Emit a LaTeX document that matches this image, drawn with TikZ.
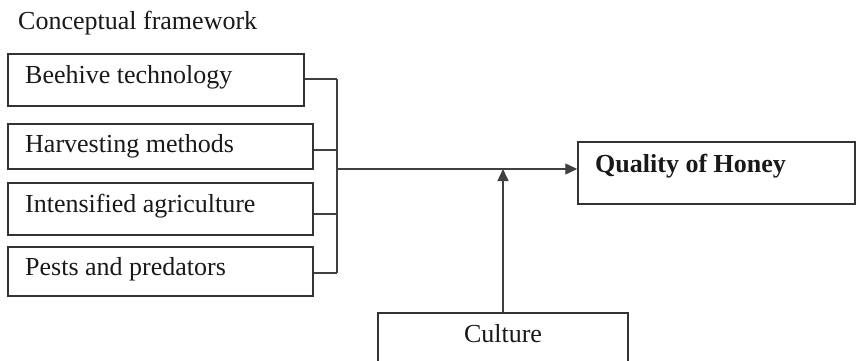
\documentclass[tikz,border=0pt]{standalone}
\usepackage{fontspec}
\setmainfont{Liberation Serif}
\usetikzlibrary{arrows.meta}
\begin{document}
\begin{tikzpicture}[x=1pt,y=-1pt,
  boxstyle/.style={draw=black!80, line width=1.5pt, rectangle, inner sep=0pt},
  txt/.style={anchor=base west, inner sep=0pt, text=black!90, font=\fontsize{26}{29}\selectfont},
  conn/.style={draw=black!75, line width=1.4pt},
  arr/.style={conn, -{Triangle[length=12pt,width=11pt]}}]
\useasboundingbox (0,0) rectangle (856,360);
\clip (0,0) rectangle (856,360);
\node[txt] (title) at (18,29) {Conceptual framework};
% left boxes
\node[boxstyle, minimum width=296pt, minimum height=52pt] (b1) at (156,80) {};
\node[boxstyle, minimum width=305pt, minimum height=45pt] (b2) at (160.5,146.5) {};
\node[boxstyle, minimum width=305pt, minimum height=52pt] (b3) at (160.5,209) {};
\node[boxstyle, minimum width=305pt, minimum height=49pt] (b4) at (160.5,271.5) {};
\node[txt] (t1) at (25,83) {Beehive technology};
\node[txt] (t2) at (25,152) {Harvesting methods};
\node[txt] (t3) at (25,212) {Intensified agriculture};
\node[txt] (t4) at (25,275) {Pests and predators};
% right box
\node[boxstyle, minimum width=277pt, minimum height=62pt] (q) at (716.5,173) {};
\node[txt, font=\fontsize{26}{29}\selectfont\bfseries] (tq) at (595,172) {Quality of Honey};
% culture box
\node[boxstyle, minimum width=250pt, minimum height=70pt] (cul) at (503,348) {};
\node[txt, anchor=base] (tc) at (503,342) {Culture};
% bracket
\coordinate (brt) at (337,79);
\coordinate (brb) at (337,273);
\coordinate (brm) at (337,169);
\draw[conn] ([yshift=1pt]b1.east) -- ([yshift=1pt]b1.east -| brt);
\draw[conn] ([yshift=-3.5pt]b2.east) -- ([yshift=-3.5pt]b2.east -| brt);
\draw[conn] ([yshift=-5pt]b3.east) -- ([yshift=-5pt]b3.east -| brt);
\draw[conn] ([yshift=-1.5pt]b4.east) -- ([yshift=-1.5pt]b4.east -| brt);
\draw[conn] (brt) -- (brb);
\draw[arr] (brm) -- (brm -| q.west);
\draw[arr] (cul.north) -- (cul.north |- brm);
\end{tikzpicture}
\end{document}
